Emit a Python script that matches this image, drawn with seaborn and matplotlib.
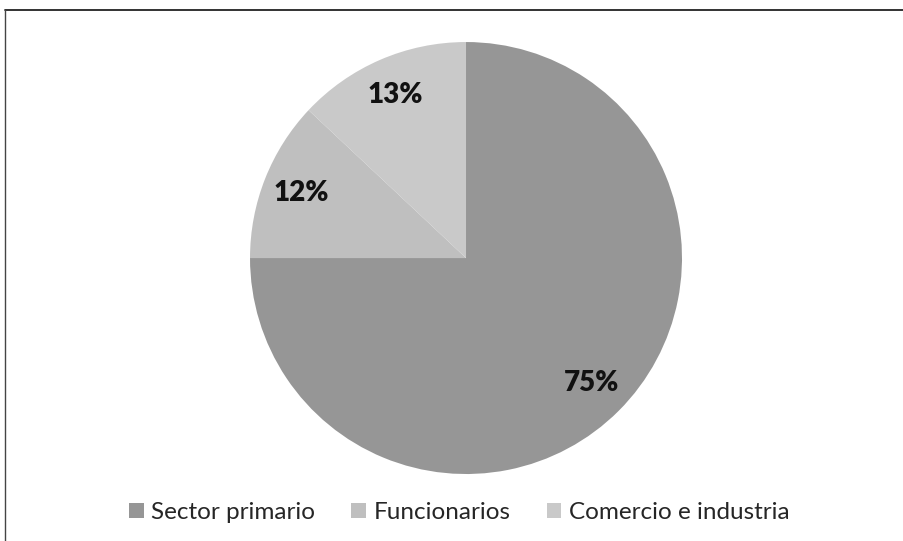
import matplotlib
matplotlib.use("Agg")
import matplotlib.pyplot as plt
import matplotlib.lines as mlines
import seaborn as sns

### Data
categorias = ["Sector primario", "Funcionarios", "Comercio e industria"]
porcentajes = [75, 12, 13]
colores = ["#969696", "#bfbfbf", "#c9c9c9"]

### Style
sns.set_theme(style="white")
plt.rcParams['font.family'] = ['Lato', 'DejaVu Sans']

fig = plt.figure(figsize=(9.04, 5.41), dpi=100)
ax = fig.add_axes([0.2765, 0.1238, 0.478, 0.7985])

wedges, texts, autotexts = ax.pie(
    porcentajes, colors=colores, startangle=90, counterclock=False,
    autopct='%1.0f%%', pctdistance=0.82,
    wedgeprops={'linewidth': 0},
    textprops={'fontsize': 20, 'fontweight': 'heavy', 'color': '#111111'})
ax.set_xlim(-1, 1)
ax.set_ylim(-1, 1)
ax.set_aspect('equal')

# Legend below the pie
fig.legend(wedges, categorias, loc='center', bbox_to_anchor=(0.508, 0.053),
           ncol=3, frameon=False, fontsize=17.5, handlelength=0.6,
           handleheight=0.6, handletextpad=0.3, columnspacing=1.5)

# Frame lines (top and left only)
fig.add_artist(mlines.Line2D([0.005, 1.0], [1 - 10 / 541, 1 - 10 / 541],
                             color='#222222', linewidth=1.3))
fig.add_artist(mlines.Line2D([0.0055, 0.0055], [0.0, 1 - 10 / 541],
                             color='#444444', linewidth=1.0))

fig.savefig("out.png", dpi=100)
